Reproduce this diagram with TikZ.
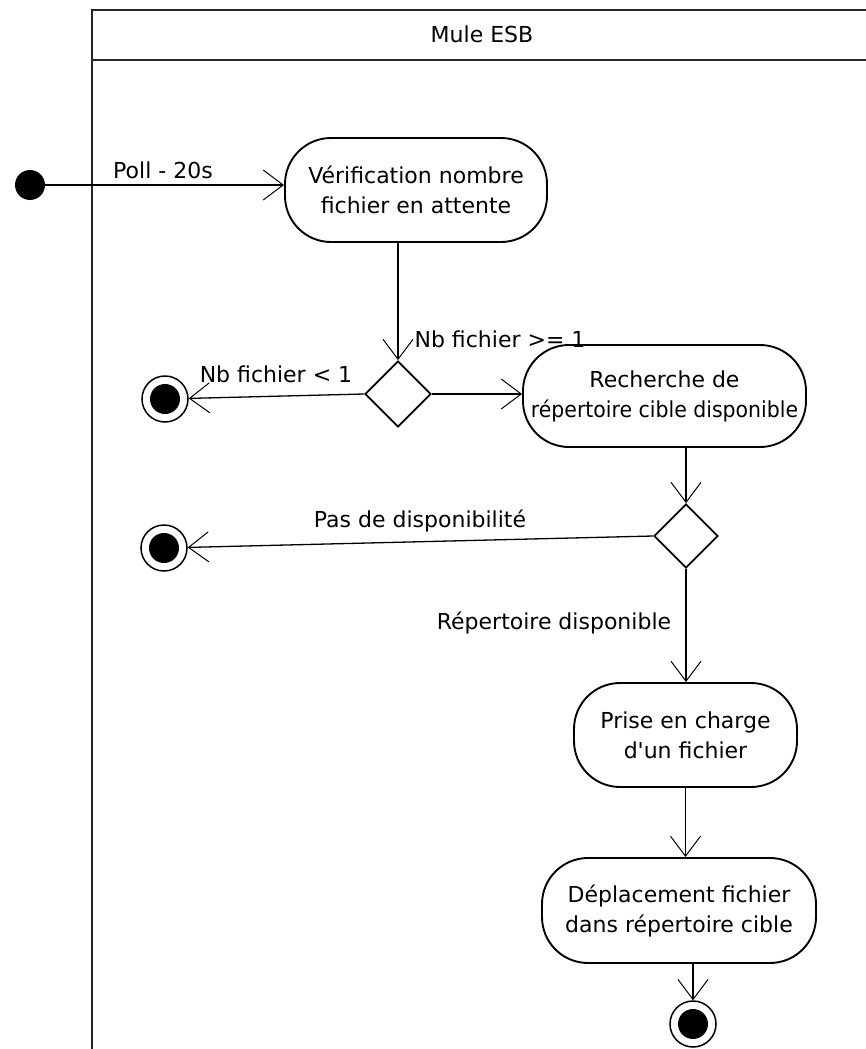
\documentclass[tikz,border=0pt]{standalone}
\usepackage{fontspec}
\setmainfont{DejaVu Sans}[Ligatures=TeXOff]
\usetikzlibrary{arrows.meta,shapes.geometric}
\begin{document}
\begin{tikzpicture}[x=1pt,y=-1pt,
  every node/.style={font=\fontsize{22}{30}\selectfont},
  activity/.style={draw, line width=1.9pt, rounded corners=46pt, align=center, inner sep=0pt},
  decision/.style={draw, diamond, line width=1.7pt, minimum size=66pt, inner sep=0pt, aspect=1},
  startnode/.style={circle, fill=black, minimum size=30pt, inner sep=0pt},
  endnode/.style={circle, draw, line width=1.5pt, minimum size=46pt, inner sep=0pt,
    path picture={\fill (path picture bounding box.center) circle (15pt);}},
  flow/.style={line width=1.3pt, -{Straight Barb[length=20pt,width=30pt,line width=1pt]}},
  guard/.style={inner sep=0pt},
  lane/.style={line width=1.8pt, line cap=rect, draw=black!85}
]
\useasboundingbox (0,0) rectangle (865,1049);

% swimlane
\draw[lane] (866,10) -- (92,10) -- (92,1052);
\draw[lane] (92,60) -- (866,60);
\node (lanetitle) at (482,34) {Mule ESB};

% actions and decisions
\node[activity, minimum width=262pt, minimum height=104pt] (act1) at (416,190) {Vérification nombre\\fichier en attente};
\node[decision] (dia1) at (398,394) {};
\node[activity, minimum width=283pt, minimum height=102pt] (act2) at (664.5,396) {Recherche de\\\scalebox{0.93}[1]{répertoire cible disponible}};
\node[decision, minimum size=64pt] (dia2) at (686,536) {};
\node[activity, minimum width=223pt, minimum height=104pt] (act3) at (685.5,735) {Prise en charge\\d'un fichier};
\node[activity, minimum width=274pt, minimum height=105pt] (act4) at (679,910.5) {Déplacement fichier\\dans répertoire cible};

% initial and final nodes
\node[startnode] (start) at (30,185) {};
\node[endnode] (end1) at (165,399) {};
\node[endnode] (end2) at (164,548) {};
\node[endnode] (end3) at (693,1024) {};

% flows
\draw[flow] (start) -- (start -| act1.west);
\draw[flow] (dia1.north |- act1.south) -- (dia1.north);
\draw[flow] (dia1.west) -- (end1);
\draw[flow] (dia1.east) -- (dia1.east -| act2.west);
\draw[flow] (dia2.north |- act2.south) -- (dia2.north);
\draw[flow] (dia2.west) -- (end2);
\draw[flow] (dia2.south) -- (dia2.south |- act3.north);
\draw[flow] (act3.south) -- (act3.south |- act4.north);
\draw[flow] (end3.north |- act4.south) -- (end3);

% guards
\node[guard] (g1) at (163,170) {Poll - 20s};
\node[guard] (g2) at (500,339) {Nb fichier >= 1};
\node[guard] (g3) at (276,374) {Nb fichier < 1};
\node[guard] (g4) at (420,521) {Pas de disponibilité};
\node[guard] (g5) at (554,623) {Répertoire disponible};
\end{tikzpicture}
\end{document}
